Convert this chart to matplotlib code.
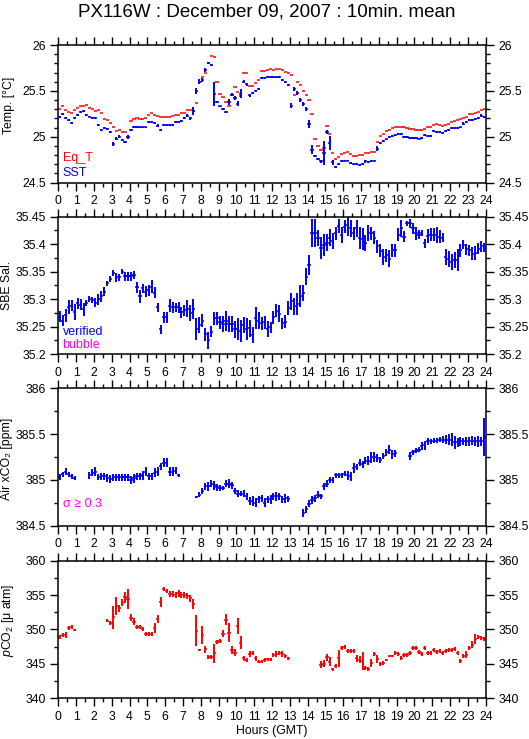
import numpy as np
import matplotlib
matplotlib.use("Agg")
import matplotlib.pyplot as plt
from matplotlib.ticker import FuncFormatter, MultipleLocator

plt.rcParams['font.family'] = ['Liberation Sans', 'DejaVu Sans']
plt.rcParams['mathtext.fontset'] = 'custom'
plt.rcParams['mathtext.rm'] = 'Liberation Sans'
plt.rcParams['mathtext.it'] = 'Liberation Sans:italic'

nan = np.nan
hours = np.arange(144) / 6.0 + 1.0 / 12.0   # 10-minute bin centres

eq_t = [25.30, 25.33, 25.29, 25.27, 25.26, 25.29,
        25.31, 25.33, 25.34, 25.35, 25.31, 25.30,
        25.28, 25.29, 25.26, 25.19, 25.18, 25.15,
        25.10, 25.06, 25.07, 25.05, 25.05, 25.00,
        25.17, 25.19, 25.20, 25.19, 25.19, 25.20,
        25.24, 25.26, 25.24, 25.23, 25.22, 25.21,
        25.21, 25.22, 25.23, 25.24, 25.24, 25.26,
        25.26, 25.29, 25.29, 25.28, 25.37, 25.60,
        25.65, 25.70, 25.80, 25.88, 25.87, 25.60,
        25.47, 25.43, 25.38, 25.33, 25.45, 25.54,
        25.49, 25.44, 25.69, 25.69, 25.55, 25.55,
        25.59, 25.62, 25.72, 25.72, 25.73, 25.74,
        25.73, 25.74, 25.74, 25.73, 25.71, 25.70,
        25.67, 25.45, 25.60, 25.56, 25.50, 25.45,
        25.40, 25.25, 24.98, 24.90, 24.85, 24.88,
        25.12, 25.03, 24.82, 24.76, 24.78, 24.81,
        24.82, 24.83, 24.81, 24.79, 24.79, 24.80,
        24.80, 24.82, 24.82, 24.83, 24.83, 24.94,
        25.01, 25.03, 25.06, 25.07, 25.09, 25.10,
        25.11, 25.11, 25.11, 25.09, 25.08, 25.08,
        25.07, 25.07, 25.07, 25.08, 25.10, 25.10,
        25.13, 25.14, 25.13, 25.12, 25.13, 25.14,
        25.16, 25.17, 25.18, 25.19, 25.20, 25.21,
        25.25, 25.25, 25.26, 25.27, 25.29, 25.30]

sst = [25.21, 25.25, 25.20, 25.18, 25.15, 25.20,
       25.24, 25.27, 25.28, 25.24, 25.22, 25.20,
       25.20, 25.13, 25.07, 25.09, 25.08, 25.05,
       24.92, 24.98, 25.00, 24.96, 24.94, 25.00,
       25.07, 25.11, 25.11, 25.10, 25.10, 25.10,
       25.16, 25.16, 25.15, 25.12, 25.07, 25.13,
       25.13, 25.13, 25.13, 25.16, 25.16, 25.17,
       25.20, 25.23, 25.20, 25.28, 25.50, 25.60,
       25.62, 25.73, 25.80, 25.78, 25.47, 25.38,
       25.33, 25.30, 25.27, 25.38, 25.46, 25.42,
       25.36, 25.47, 25.60, 25.57, 25.45, 25.48,
       25.50, 25.52, 25.64, 25.64, 25.65, 25.65,
       25.65, 25.65, 25.65, 25.62, 25.60, 25.56,
       25.34, 25.52, 25.48, 25.40, 25.36, 25.30,
       25.14, 24.86, 24.79, 24.76, 24.73, 24.82,
       25.05, 24.93, 24.72, 24.67, 24.70, 24.73,
       24.74, 24.74, 24.71, 24.70, 24.70, 24.69,
       24.70, 24.73, 24.72, 24.73, 24.74, 24.87,
       24.93, 24.95, 24.97, 25.00, 25.01, 25.02,
       25.03, 25.03, 25.00, 25.00, 24.99, 24.99,
       24.99, 24.98, 24.99, 25.02, 25.01, 25.01,
       25.06, 25.05, 25.05, 25.04, 25.06, 25.07,
       25.09, 25.09, 25.09, 25.10, 25.14, 25.16,
       25.18, 25.18, 25.19, 25.20, 25.23, 25.21]

sst_err = [.010, .010, .010, .010, .012, .010,
           .010, .010, .010, .010, .010, .010,
           .010, .012, .010, .010, .010, .010,
           .025, .020, .015, .012, .012, .020,
           .010, .010, .010, .010, .010, .010,
           .010, .010, .010, .015, .012, .010,
           .010, .012, .010, .010, .010, .010,
           .012, .015, .015, .040, .030, .025,
           .020, .020, .010, .010, .130, .010,
           .010, .010, .012, .030, .020, .020,
           .025, .050, .020, .020, .015, .010,
           .012, .015, .010, .010, .010, .010,
           .010, .010, .015, .010, .010, .012,
           .030, .025, .020, .025, .020, .025,
           .045, .050, .015, .012, .015, .130,
           .020, .080, .030, .015, .010, .010,
           .010, .010, .010, .010, .010, .010,
           .010, .015, .010, .010, .010, .030,
           .010, .010, .010, .010, .010, .010,
           .010, .010, .010, .010, .010, .010,
           .010, .010, .010, .010, .010, .010,
           .010, .010, .010, .010, .010, .010,
           .010, .010, .010, .010, .015, .010,
           .010, .010, .010, .010, .012, .010]

sal = [35.268, 35.261, 35.271, 35.286, 35.288, 35.277,
       35.293, 35.290, 35.282, 35.293, 35.300, 35.299,
       35.294, 35.300, 35.305, 35.314, 35.329, 35.337,
       35.348, 35.340, 35.340, 35.350, 35.342, 35.342,
       35.342, 35.344, 35.322, 35.305, 35.320, 35.314,
       35.316, 35.323, 35.312, 35.285, 35.245, 35.267,
       35.267, 35.288, 35.285, 35.285, 35.285, 35.276,
       35.280, 35.283, 35.275, 35.282, 35.245, 35.253,
       35.261, 35.236, 35.225, 35.241, 35.265, 35.265,
       35.258, 35.255, 35.261, 35.255, 35.255, 35.245,
       35.245, 35.243, 35.253, 35.245, 35.247, 35.235,
       35.265, 35.261, 35.256, 35.258, 35.246, 35.249,
       35.267, 35.279, 35.274, 35.256, 35.259, 35.284,
       35.296, 35.287, 35.291, 35.305, 35.311, 35.341,
       35.362, 35.420, 35.420, 35.411, 35.393, 35.399,
       35.403, 35.412, 35.406, 35.420, 35.433, 35.417,
       35.432, 35.435, 35.429, 35.420, 35.429, 35.411,
       35.409, 35.402, 35.420, 35.420, 35.412, 35.396,
       35.388, 35.377, 35.380, 35.374, 35.389, 35.389,
       35.417, 35.429, 35.414, 35.438, 35.438, 35.429,
       35.420, 35.417, 35.420, 35.402, 35.415, 35.417,
       35.417, 35.417, 35.414, 35.412, 35.377, 35.373,
       35.368, 35.371, 35.371, 35.389, 35.399, 35.391,
       35.389, 35.383, 35.384, 35.392, 35.396, 35.394]

sal_err = [.010, .010, .012, .012, .010, .015,
           .010, .010, .012, .005, .005, .005,
           .008, .010, .010, .008, .005, .005,
           .006, .008, .006, .005, .008, .008,
           .008, .008, .010, .012, .008, .010,
           .010, .012, .010, .008, .008, .010,
           .010, .012, .010, .008, .010, .010,
           .010, .015, .015, .018, .020, .015,
           .012, .012, .015, .010, .012, .012,
           .012, .015, .018, .015, .015, .015,
           .020, .020, .015, .020, .015, .015,
           .020, .015, .012, .012, .015, .010,
           .012, .012, .015, .010, .012, .012,
           .015, .015, .020, .020, .015, .015,
           .018, .025, .025, .015, .020, .020,
           .015, .015, .015, .012, .012, .015,
           .012, .020, .015, .012, .015, .020,
           .020, .015, .015, .012, .012, .012,
           .012, .015, .012, .015, .012, .012,
           .012, .015, .010, .005, .008, .010,
           .012, .008, .005, .008, .012, .012,
           .012, .015, .012, .008, .015, .015,
           .015, .015, .020, .012, .008, .010,
           .010, .012, .012, .010, .010, .008]

xco2 = [385.03, 385.06, 385.09, 385.06, 385.04, 385.02,
        nan, nan, nan, nan, 385.05, 385.08,
        385.09, 385.03, 385.04, 385.04, 385.02, 385.01,
        385.03, 385.03, 385.03, 385.03, 385.03, 385.03,
        385.00, 385.02, 385.04, 385.04, 385.05, 385.09,
        385.04, 385.04, 385.08, 385.09, 385.15, 385.19,
        385.19, 385.09, 385.09, 385.10, 385.05, nan,
        nan, nan, nan, nan, 384.81, 384.84,
        384.88, 384.93, 384.93, 384.96, 384.94, 384.92,
        384.91, 384.91, 384.96, 384.96, 384.94, 384.88,
        384.85, 384.85, 384.85, 384.82, 384.77, 384.77,
        384.75, 384.79, 384.80, 384.75, 384.79, 384.79,
        384.82, 384.82, 384.82, 384.79, 384.80, 384.79,
        nan, nan, nan, nan, 384.64, 384.68,
        384.74, 384.78, 384.80, 384.84, 384.82, 384.93,
        384.96, 385.00, 385.00, 385.05, 385.05, 385.05,
        385.07, 385.05, 385.04, 385.13, 385.14, 385.19,
        385.17, 385.21, 385.21, 385.25, 385.25, 385.24,
        385.22, 385.26, 385.30, 385.33, 385.28, 385.29,
        nan, nan, nan, nan, 385.26, 385.30,
        385.32, 385.33, 385.37, 385.38, 385.42, 385.42,
        385.43, 385.43, 385.44, 385.44, 385.44, 385.44,
        385.44, 385.41, 385.41, 385.42, 385.42, 385.42,
        385.42, 385.43, 385.42, 385.42, 385.42, 385.47]

xco2_err = [.03, .03, .04, .03, .03, .02,
            0, 0, 0, 0, .04, .04,
            .05, .03, .04, .04, .04, .04,
            .04, .04, .04, .04, .04, .04,
            .04, .05, .04, .04, .05, .05,
            .04, .04, .05, .05, .04, .05,
            .05, .05, .05, .04, .02, 0,
            0, 0, 0, 0, .01, .03,
            .03, .04, .05, .04, .05, .04,
            .03, .02, .04, .05, .04, .03,
            .04, .03, .04, .04, .04, .05,
            .05, .04, .04, .05, .04, .05,
            .04, .05, .04, .04, .05, .03,
            0, 0, 0, 0, .04, .04,
            .04, .04, .04, .04, .03, .04,
            .04, .03, .03, .03, .03, .03,
            .03, .05, .05, .05, .03, .04,
            .04, .04, .05, .06, .05, .04,
            .03, .03, .04, .05, .05, .04,
            0, 0, 0, 0, .04, .03,
            .03, .03, .04, .05, .04, .03,
            .03, .03, .03, .04, .05, .06,
            .07, .07, .05, .05, .04, .05,
            .05, .05, .05, .06, .05, .21]

pco2 = [348.96, 349.20, 349.20, 350.17, 350.30, 349.93,
        nan, nan, nan, nan, nan, nan,
        nan, nan, nan, nan, 351.28, 350.90,
        351.77, 353.40, 353.07, 353.90, 354.67, 354.43,
        351.72, 351.14, 350.41, 350.31, 350.02, 349.35,
        349.35, 349.35, 350.17, 351.50, 353.95, 355.84,
        355.60, 355.16, 355.16, 355.01, 355.25, 355.01,
        355.01, 354.87, 354.53, 353.66, 349.83, 347.00,
        349.20, 347.12, 345.96, 345.96, 346.54, 348.23,
        348.38, 349.35, 351.38, 349.54, 347.00, 346.60,
        350.50, 348.09, 345.81, 345.57, 346.44, 346.54,
        345.81, 345.33, 345.33, 345.57, 345.67, 345.67,
        346.30, 346.44, 346.54, 346.44, 346.15, 345.81,
        nan, nan, nan, nan, nan, nan,
        nan, nan, nan, nan, 344.84, 344.99,
        345.96, 345.33, 344.21, 344.70, 345.81, 347.26,
        347.50, 346.92, 346.92, 346.92, 345.81, 345.57,
        345.47, 344.36, 344.21, 345.08, 346.44, 345.67,
        344.99, 345.18, 345.57, 346.15, 346.15, 346.54,
        346.39, 345.81, 346.30, 346.30, 346.54, 347.26,
        347.26, 346.78, 346.44, 347.26, 346.63, 346.54,
        347.02, 346.78, 346.92, 346.63, 346.92, 347.02,
        347.02, 347.12, 346.54, 345.47, 346.15, 346.30,
        347.26, 347.75, 348.57, 348.96, 348.72, 348.57]

pco2_err = [.3, .3, .5, .3, .3, .2,
            0, 0, 0, 0, 0, 0,
            0, 0, 0, 0, .2, .3,
            1.7, 1.3, .5, .5, .8, 1.4,
            .5, .5, .3, .3, .3, .3,
            .3, .3, .7, .6, .7, .3,
            .3, .5, .5, .5, .5, .4,
            .5, .4, .5, .7, 2.2, .2,
            1.3, .5, .3, .3, 1.4, .3,
            .3, .5, .8, 1.4, .6, .5,
            1.2, .9, .4, .3, .4, .3,
            .4, .2, .2, .3, .2, .2,
            .3, .4, .3, .4, .3, .2,
            0, 0, 0, 0, 0, 0,
            0, 0, 0, 0, .5, .5,
            .5, .6, .2, .3, 1.2, .3,
            .3, .3, .3, .3, .5, .5,
            1.3, .3, .3, .6, .3, .6,
            .3, .3, .2, .2, .2, .3,
            .3, .3, .3, .3, .3, .3,
            .3, .3, .3, .3, .3, .3,
            .3, .3, .3, .3, .3, .3,
            .3, .3, .3, .3, .3, .5,
            .3, .5, .7, .3, .3, .3]

hour_ticks = list(range(25))
title = "PX116W : December 09, 2007 : 10min. mean"

RED, BLUE, MAG = '#ff0000', '#0000ff', '#ff00ff'
TFS = 8.8     # tick labels
LFS = 8.8     # axis labels
GFS = 9.0     # legend texts

fig = plt.figure(figsize=(5.29, 7.39), dpi=100)
L, W = 58.3 / 529, 427.4 / 529
tops = [45.0, 216.7, 388.3, 560.7]
H = 137.5
axes = [fig.add_axes([L, 1 - (t + H) / 739, W, H / 739]) for t in tops]


def marks(ax, y, yerr, color, z=2):
    ax.errorbar(hours, y, xerr=0.09, fmt='none', ecolor=color,
                elinewidth=1.1, capsize=0, zorder=z)
    ax.errorbar(hours, y, yerr=yerr, fmt='none', ecolor=color,
                elinewidth=1.4, capsize=0, zorder=z)


marks(axes[0], eq_t, [0.0] * 144, RED, 2)
marks(axes[0], sst, sst_err, BLUE, 3)
marks(axes[1], sal, sal_err, BLUE)
marks(axes[2], xco2, xco2_err, BLUE)
marks(axes[3], pco2, pco2_err, RED)

ylims = [(24.5, 26), (35.2, 35.45), (384.5, 386), (340, 360)]
ymaj = [0.5, 0.05, 0.5, 5]
ymin = [0.1, 0.025, 0.25, 2.5]
ylabels = ["Temp. [°C]", "SBE Sal.", "Air xCO₂ [ppm]",
           "$\\it{p}$CO$_2$ [μ atm]"]
ylab_x = [-0.101, -0.106, -0.106, -0.099]
ylab_y = [0.563, 0.5, 0.49, 0.563]

fmt = FuncFormatter(lambda v, p: f"{v:g}")
for i, ax in enumerate(axes):
    ax.set_xlim(0, 24)
    ax.set_ylim(*ylims[i])
    ax.set_xticks(hour_ticks)
    ax.xaxis.set_minor_locator(MultipleLocator(0.5))
    ax.yaxis.set_major_locator(MultipleLocator(ymaj[i]))
    ax.yaxis.set_minor_locator(MultipleLocator(ymin[i]))
    ax.yaxis.set_major_formatter(fmt)
    ax.tick_params(which='both', direction='out', top=True, right=True,
                   labelright=True, labelleft=True, width=1,
                   labelsize=TFS, colors='black')
    ax.tick_params(which='major', length=5.5, pad=3.5)
    ax.tick_params(which='minor', length=3)
    for s in ax.spines.values():
        s.set_linewidth(1.1)
    ax.set_ylabel(ylabels[i], fontsize=LFS)
    ax.yaxis.set_label_coords(ylab_x[i], ylab_y[i])

axes[0].text(0.01, 0.177, "Eq_T", color=RED, fontsize=GFS,
             transform=axes[0].transAxes, va='center')
axes[0].text(0.01, 0.068, "SST", color=BLUE, fontsize=GFS,
             transform=axes[0].transAxes, va='center')
axes[1].text(0.01, 0.16, "verified", color=BLUE, fontsize=GFS,
             transform=axes[1].transAxes, va='center')
axes[1].text(0.01, 0.068, "bubble", color=MAG, fontsize=GFS,
             transform=axes[1].transAxes, va='center')
axes[2].text(0.01, 0.156, "σ ≥ 0.3", color=MAG, fontsize=GFS,
             transform=axes[2].transAxes, va='center')

fig.text(272 / 529, 1 - 731 / 739, "Hours (GMT)", fontsize=LFS,
         ha='center', va='center')
fig.text(267 / 529, 1 - 12 / 739, title, fontsize=13.5,
         ha='center', va='center')

fig.savefig("out.png", dpi=100)
